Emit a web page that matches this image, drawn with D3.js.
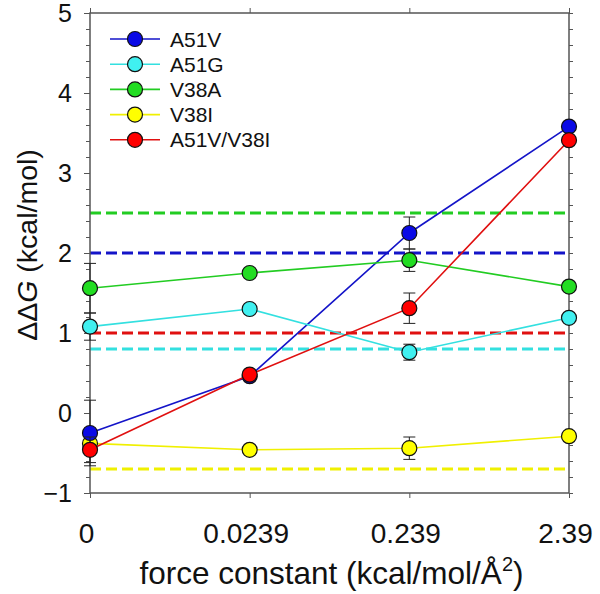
<!DOCTYPE html>
<html>
<head>
<meta charset="utf-8">
<script src="https://cdn.jsdelivr.net/npm/d3@7"></script>
<style>
  html, body { margin: 0; padding: 0; background: #fff; }
  svg { display: block; font-family: "Liberation Sans", Arial, sans-serif; }
</style>
</head>
<body>
<svg id="chart" width="600" height="594"></svg>
<script>
const categories = ["0", "0.0239", "0.239", "2.39"];
const seriesNames = ["A51V", "A51G", "V38A", "V38I", "A51V/V38I"];
const seriesColors = ["#1414c8", "#33e0e0", "#22cc22", "#f0f000", "#e01010"];
const markerColors = ["#0a0ae6", "#40f0f0", "#22dd22", "#ffff00", "#ff0000"];
const A51V = [-0.25, 0.46, 2.25, 3.58];
const A51G = [1.08, 1.30, 0.76, 1.19];
const V38A = [1.56, 1.75, 1.91, 1.58];
const V38I = [-0.38, -0.46, -0.44, -0.29];
const A51V_V38I = [-0.46, 0.48, 1.31, 3.41];
const A51V_err = [0.41, 0.05, 0.20, 0.05];
const A51G_err = [0.17, 0.05, 0.10, 0.05];
const V38A_err = [0.31, 0.05, 0.14, 0.05];
const V38I_err = [0.10, 0.05, 0.14, 0.05];
const A51V_V38I_err = [0.16, 0.05, 0.19, 0.05];
const references = [2.0, 0.8, 2.5, -0.7, 1.0];
const yTicks = [-1, 0, 1, 2, 3, 4, 5];
const yMinorTicks = d3.range(-1, 5.0001, 0.2).map(v => Math.round(v * 10) / 10);

const seriesValues = [A51V, A51G, V38A, V38I, A51V_V38I];
const seriesErrors = [A51V_err, A51G_err, V38A_err, V38I_err, A51V_V38I_err];

const svg = d3.select("#chart");
const L = 90, R = 569, T = 13, B = 493;
const x = d3.scalePoint().domain(categories).range([L, R]).padding(0);
const y = d3.scaleLinear().domain([-1, 5]).range([B, T]);
const axisColor = "#555";

// reference dashed lines
svg.append("g").selectAll("line").data(references).join("line")
  .attr("x1", L).attr("x2", R)
  .attr("y1", d => y(d)).attr("y2", d => y(d))
  .attr("stroke", (d, i) => seriesColors[i])
  .attr("stroke-width", 3)
  .attr("stroke-dasharray", "11,5");

// axes
function styleAxis(g) {
  g.select(".domain").remove();
  g.selectAll(".tick line").attr("stroke", axisColor).attr("stroke-width", 1);
}
svg.append("g").attr("transform", `translate(${L},0)`)
  .call(d3.axisLeft(y).tickValues(yMinorTicks).tickSize(4).tickFormat(""))
  .call(styleAxis);
svg.append("g").attr("transform", `translate(${L},0)`)
  .call(d3.axisLeft(y).tickValues(yTicks).tickSize(6).tickPadding(12).tickFormat(d3.format("d")))
  .call(styleAxis)
  .call(g => g.selectAll("text").attr("font-size", 25).attr("fill", "#111"));
svg.append("g").attr("transform", `translate(${R},0)`)
  .call(d3.axisRight(y).tickValues(yMinorTicks).tickSize(4).tickFormat(""))
  .call(styleAxis);
svg.append("g").attr("transform", `translate(0,${B})`)
  .call(d3.axisBottom(x).tickSize(5).tickPadding(25))
  .call(styleAxis)
  .call(g => g.selectAll("text").attr("font-size", 28).attr("dx", -4).attr("fill", "#111"));
svg.append("g").attr("transform", `translate(0,${T})`)
  .call(d3.axisTop(x).tickSize(5).tickFormat(""))
  .call(styleAxis);

// frame
svg.append("rect").attr("x", L).attr("y", T).attr("width", R - L).attr("height", B - T)
  .attr("fill", "none").attr("stroke", axisColor).attr("stroke-width", 1.5);

// series
const line = d3.line().x((d, i) => x(categories[i])).y(d => y(d));
const order = [3, 0, 1, 2, 4];
order.forEach(si => {
  const vals = seriesValues[si];
  const g = svg.append("g");
  g.append("path").datum(vals).attr("d", line)
    .attr("fill", "none").attr("stroke", seriesColors[si]).attr("stroke-width", 1.6);
  const errs = seriesErrors[si];
  vals.forEach((v, i) => {
    const cx = x(categories[i]);
    const e = errs[i];
    g.append("line").attr("x1", cx).attr("x2", cx).attr("y1", y(v - e)).attr("y2", y(v + e))
      .attr("stroke", "#222").attr("stroke-width", 1);
    [v - e, v + e].forEach(c => g.append("line")
      .attr("x1", cx - 6).attr("x2", cx + 6).attr("y1", y(c)).attr("y2", y(c))
      .attr("stroke", "#222").attr("stroke-width", 1));
  });
  g.selectAll("circle").data(vals).join("circle")
    .attr("cx", (d, i) => x(categories[i])).attr("cy", d => y(d)).attr("r", 7.5)
    .attr("fill", markerColors[si]).attr("stroke", "#111").attr("stroke-width", 1.2);
});

// legend
const lg = svg.append("g");
seriesNames.forEach((name, i) => {
  const ly = 39 + i * 25.2;
  lg.append("line").attr("x1", 110).attr("x2", 160).attr("y1", ly).attr("y2", ly)
    .attr("stroke", seriesColors[i]).attr("stroke-width", 1.6);
  lg.append("circle").attr("cx", 135).attr("cy", ly).attr("r", 7.5)
    .attr("fill", markerColors[i]).attr("stroke", "#111").attr("stroke-width", 1.2);
  lg.append("text").attr("x", 170).attr("y", ly + 7.5).attr("font-size", 21).attr("fill", "#111").text(name);
});

// axis titles
const xt = svg.append("text").attr("x", (L + R) / 2 + 2).attr("y", 584).attr("text-anchor", "middle")
  .attr("font-size", 31.5).attr("fill", "#111");
xt.append("tspan").text("force constant (kcal/mol/Å");
xt.append("tspan").attr("font-size", 20).attr("dy", -13).text("2");
xt.append("tspan").attr("dy", 13).text(")");

const yt = svg.append("text").attr("transform", "translate(37,245) rotate(-90)")
  .attr("text-anchor", "middle").attr("font-size", 28.5).attr("fill", "#111");
yt.append("tspan").text("ΔΔ");
yt.append("tspan").attr("font-style", "italic").text("G");
yt.append("tspan").text(" (kcal/mol)");
</script>
</body>
</html>
